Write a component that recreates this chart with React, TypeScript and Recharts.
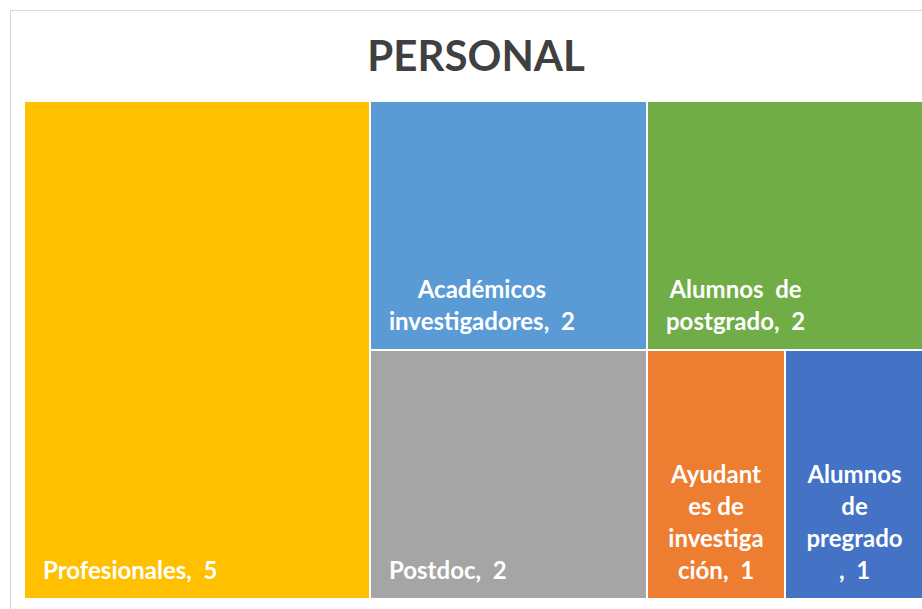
import React from "react";
import { Treemap } from "recharts";

const categories = [
  "Profesionales",
  "Académicos investigadores",
  "Postdoc",
  "Alumnos de postgrado",
  "Ayudantes de investigación",
  "Alumnos de pregrado",
];
const values = [5, 2, 2, 2, 1, 1];
const colors = ["#FFC000", "#5B9BD5", "#A5A5A5", "#70AD47", "#ED7D31", "#4472C4"];
const labelLines = [
  ["Profesionales,  5"],
  ["Académicos", "investigadores,  2"],
  ["Postdoc,  2"],
  ["Alumnos  de", "postgrado,  2"],
  ["Ayudant", "es de", "investiga", "ción,  1"],
  ["Alumnos", "de", "pregrado", ",  1"],
];
const title = "PERSONAL";

const data = categories.map((name, i) => ({ name, value: values[i], idx: i }));

const LABEL_FONT = "bold 24px Lato";
let ctx: CanvasRenderingContext2D | null = null;
const measure = (t: string) => {
  if (!ctx) ctx = document.createElement("canvas").getContext("2d");
  if (!ctx) return t.length * 11;
  ctx.font = LABEL_FONT;
  return ctx.measureText(t).width;
};

const Cell = (props: any) => {
  const { x, y, width, height, depth, idx } = props;
  if (depth !== 1 || idx === undefined) return null;
  const lines = labelLines[idx];
  const pad = 19;
  const avail = width - 2 * pad;
  const maxW = Math.max(...lines.map(measure));
  const cx = maxW > avail * 0.85 ? x + width / 2 : x + pad + maxW / 2;
  const lastBase = y + height - 20;
  return (
    <g>
      <rect x={x} y={y} width={width} height={height} fill={colors[idx]} stroke="#fff" strokeWidth={2} />
      {lines.map((l, j) => (
        <text
          key={j}
          x={cx}
          y={lastBase - (lines.length - 1 - j) * 32}
          textAnchor="middle"
          fill="#fff"
          style={{ font: LABEL_FONT, whiteSpace: "pre" }}
        >
          {l}
        </text>
      ))}
    </g>
  );
};

export default function App() {
  return (
    <div
      style={{
        position: "absolute",
        left: 0,
        top: 0,
        width: 922,
        height: 609,
        overflow: "hidden",
        background: "#fff",
      }}
    >
      <div
        style={{
          position: "absolute",
          left: 10,
          top: 10,
          width: 1000,
          height: 700,
          border: "1px solid #d9d9d9",
        }}
      />
      <div
        style={{
          position: "absolute",
          left: 0,
          top: 30,
          width: 952,
          textAlign: "center",
          font: "bold 42px Lato",
          color: "#404040",
          lineHeight: "50px",
        }}
      >
        {title}
      </div>
      <div style={{ position: "absolute", left: 24, top: 101 }}>
        <Treemap
          width={900}
          height={498}
          data={data}
          dataKey="value"
          nameKey="name"
          aspectRatio={1}
          isAnimationActive={false}
          content={<Cell />}
        />
      </div>
    </div>
  );
}
